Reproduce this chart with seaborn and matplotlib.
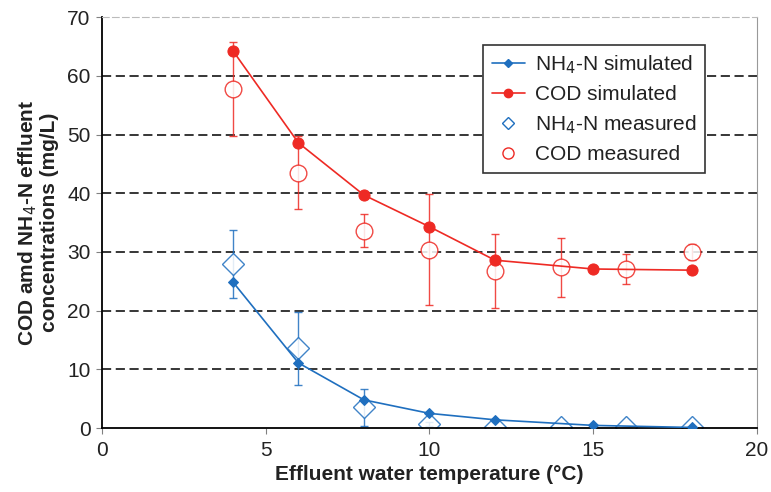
import numpy as np
import pandas as pd
import matplotlib
matplotlib.use("Agg")
import matplotlib.pyplot as plt
import seaborn as sns
from matplotlib.lines import Line2D

# simulated values
sim_temp = [4, 6, 8, 10, 12, 15, 18]
cod_sim = [64.3, 48.6, 39.7, 34.3, 28.6, 27.1, 26.9]
nh4_sim = [24.9, 11.1, 4.8, 2.5, 1.4, 0.45, 0.1]

# measured values with error bars
meas_temp = [4, 6, 8, 10, 12, 14, 16, 18]
cod_meas = [57.7, 43.5, 33.6, 30.4, 26.8, 27.4, 27.1, 30.0]
cod_err = [8.0, 6.2, 2.8, 9.5, 6.3, 5.0, 2.6, 1.3]
nh4_meas = [27.9, 13.6, 3.5, 0.7, 0.1, 0.1, 0.1, 0.1]
nh4_err = [5.8, 6.2, 3.1, 0.3, 0.1, 0.1, 0.1, 0.1]

RED = "#ee2a24"
BLUE = "#1f6fbf"

sns.set_style("ticks")
plt.rcParams['font.family'] = ['Liberation Sans', 'DejaVu Sans']

df_sim = pd.DataFrame({"T": sim_temp, "COD": cod_sim, "NH4": nh4_sim})

fig = plt.figure(figsize=(7.71, 4.92), dpi=100)
ax = fig.add_axes([0.132, 0.130, 0.850, 0.835])

# dashed horizontal grid
for yv in range(10, 70, 10):
    ax.axhline(yv, color="black", lw=1.1, ls=(0, (6, 3)), zorder=0)

# measured points
ax.errorbar(meas_temp, cod_meas, yerr=cod_err, fmt="o", mfc="white", mec=RED,
            ecolor=RED, color=RED, ms=12, mew=1, elinewidth=1, capsize=3,
            alpha=0.85, zorder=2)
ax.errorbar(meas_temp, nh4_meas, yerr=nh4_err, fmt="D", mfc="white", mec=BLUE,
            ecolor=BLUE, color=BLUE, ms=11, mew=1, elinewidth=1, capsize=3,
            alpha=0.85, zorder=2)

# simulated lines
sns.lineplot(data=df_sim, x="T", y="COD", color=RED, marker="o", ms=8,
             mec=RED, lw=1.2, ax=ax, zorder=3)
sns.lineplot(data=df_sim, x="T", y="NH4", color=BLUE, marker="D", ms=5,
             mec=BLUE, lw=1.2, ax=ax, zorder=3)

ax.set_xlim(0, 20)
ax.set_ylim(0, 70)
ax.set_xticks([0, 5, 10, 15, 20])
ax.set_yticks(range(0, 80, 10))
ax.tick_params(labelsize=15, length=4, color="grey", colors="#222222")
ax.tick_params(axis="x", pad=5)
ax.tick_params(axis="y", pad=4)

for s in ["left", "bottom"]:
    ax.spines[s].set_color("black")
    ax.spines[s].set_linewidth(1.3)
ax.spines["right"].set_color("#999999")
ax.spines["top"].set_color("#bbbbbb")
ax.spines["top"].set_linestyle((0, (6, 3)))

ax.set_xlabel("Effluent water temperature (°C)", fontsize=15, fontweight="bold",
              color="#222222", labelpad=4)
ax.set_ylabel("COD amd NH$_4$-N effluent\nconcentrations (mg/L)", fontsize=15,
              fontweight="bold", color="#222222", labelpad=6, linespacing=1.05)

handles = [
    Line2D([], [], color=BLUE, marker="D", ms=4, lw=1.2),
    Line2D([], [], color=RED, marker="o", ms=6, lw=1.2),
    Line2D([], [], color=BLUE, marker="D", ls="", ms=6, mfc="white", mew=1),
    Line2D([], [], color=RED, marker="o", ls="", ms=8, mfc="white", mew=1),
]
labels = ["NH$_4$-N simulated", "COD simulated", "NH$_4$-N measured", "COD measured"]
leg = ax.legend(handles, labels, loc="upper left", bbox_to_anchor=(0.582, 0.932),
                fontsize=15, frameon=True, fancybox=False, edgecolor="#333333",
                framealpha=1, handlelength=1.6, labelspacing=0.44,
                borderpad=0.4, handletextpad=0.5, borderaxespad=0)
leg.get_frame().set_linewidth(1.2)
for t in leg.get_texts():
    t.set_color("#222222")

fig.savefig("out.png", dpi=100)
